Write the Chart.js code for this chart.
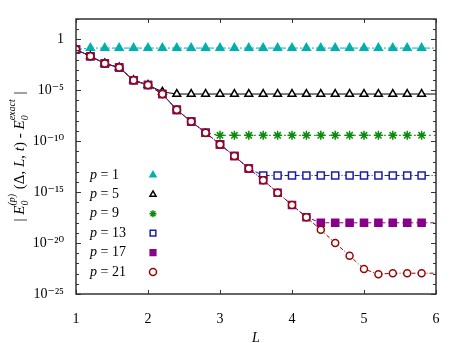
<!DOCTYPE html>
<html>
<head>
<meta charset="utf-8">
<script src="https://cdn.jsdelivr.net/npm/chart.js@4/dist/chart.umd.min.js"></script>
<style>
  html, body { margin: 0; padding: 0; background: #fff; }
</style>
</head>
<body>
<canvas id="chart" width="463" height="343"></canvas>
<script>
// system sizes L (markers every 0.2, last point only carries the line to the edge)
const sizes = [1.0, 1.2, 1.4, 1.6, 1.8, 2.0, 2.2, 2.4, 2.6, 2.8, 3.0, 3.2, 3.4,
               3.6, 3.8, 4.0, 4.2, 4.4, 4.6, 4.8, 5.0, 5.2, 5.4, 5.6, 5.8, 6.0];

// |E0(p) - E0exact| for each order p
const errP1  = [1.0e-1, 1.4e-1, 1.4e-1, 1.4e-1, 1.4e-1, 1.4e-1, 1.4e-1, 1.4e-1, 1.4e-1, 1.4e-1,
                1.4e-1, 1.4e-1, 1.4e-1, 1.4e-1, 1.4e-1, 1.4e-1, 1.4e-1, 1.4e-1, 1.4e-1, 1.4e-1,
                1.4e-1, 1.4e-1, 1.4e-1, 1.4e-1, 1.4e-1, 1.4e-1];
const errP5  = [1.0e-1, 2.2e-2, 4.3e-3, 1.7e-3, 9.5e-5, 3.3e-5, 7.0e-6, 4.3e-6, 4.3e-6, 4.3e-6,
                4.3e-6, 4.3e-6, 4.3e-6, 4.3e-6, 4.3e-6, 4.3e-6, 4.3e-6, 4.3e-6, 4.3e-6, 4.3e-6,
                4.3e-6, 4.3e-6, 4.3e-6, 4.3e-6, 4.3e-6, 4.3e-6];
const errP9  = [1.0e-1, 2.2e-2, 4.3e-3, 1.7e-3, 9.5e-5, 3.3e-5, 4.3e-6, 1.2e-7, 8.5e-9, 6.9e-10,
                3.8e-10, 3.8e-10, 3.8e-10, 3.8e-10, 3.8e-10, 3.8e-10, 3.8e-10, 3.8e-10, 3.8e-10, 3.8e-10,
                3.8e-10, 3.8e-10, 3.8e-10, 3.8e-10, 3.8e-10, 3.8e-10];
const errP13 = [1.0e-1, 2.2e-2, 4.3e-3, 1.7e-3, 9.5e-5, 3.3e-5, 4.3e-6, 1.2e-7, 8.5e-9, 6.9e-10,
                4.9e-11, 3.5e-12, 2.1e-13, 4.3e-14, 4.3e-14, 4.3e-14, 4.3e-14, 4.3e-14, 4.3e-14, 4.3e-14,
                4.3e-14, 4.3e-14, 4.3e-14, 4.3e-14, 4.3e-14, 4.3e-14];
const errP17 = [1.0e-1, 2.2e-2, 4.3e-3, 1.7e-3, 9.5e-5, 3.3e-5, 4.3e-6, 1.2e-7, 8.5e-9, 6.9e-10,
                4.9e-11, 3.5e-12, 2.1e-13, 1.5e-14, 8.9e-16, 5.4e-17, 3.5e-18, 9.8e-19, 9.8e-19, 9.8e-19,
                9.8e-19, 9.8e-19, 9.8e-19, 9.8e-19, 9.8e-19, 9.8e-19];
const errP21 = [1.0e-1, 2.2e-2, 4.3e-3, 1.7e-3, 9.5e-5, 3.3e-5, 4.3e-6, 1.2e-7, 8.5e-9, 6.9e-10,
                4.9e-11, 3.5e-12, 2.1e-13, 1.5e-14, 8.9e-16, 5.4e-17, 3.5e-18, 2.0e-19, 1.0e-20, 5.8e-22,
                2.8e-23, 8.9e-24, 1.1e-23, 1.1e-23, 1.1e-23, 1.1e-23];

const xTickValues = [1, 2, 3, 4, 5, 6];
const yTickValues = [1e-25, 1e-20, 1e-15, 1e-10, 1e-5, 1];
const yTickLabels = ['10⁻²⁵', '10⁻²⁰', '10⁻¹⁵', '10⁻¹⁰', '10⁻⁵', '1'];

const FONT = "'Liberation Serif', 'DejaVu Serif', serif";

function series(label, data, color, style, radius, filled, dash, order) {
    return {
        label: label,
        data: sizes.map((x, i) => ({ x: x, y: data[i] })),
        borderColor: color,
        backgroundColor: color,
        borderWidth: 1,
        borderDash: dash,
        pointStyle: style,
        pointRadius: sizes.map((x, i) => i === sizes.length - 1 ? 0 : radius),
        pointBorderColor: color,
        pointBackgroundColor: filled ? color : '#ffffff',
        pointBorderWidth: 1.5,
        tension: 0,
        order: order
    };
}

const datasets = [
    series('p = 1',  errP1,  '#00b0b0', 'triangle', 4.5, true,  [6, 2, 2, 2], 5),
    series('p = 5',  errP5,  '#000000', 'triangle', 4.5, false, [],           4),
    series('p = 9',  errP9,  '#0b8a0b', 'star',     4.5, true,  [2, 3],       3),
    series('p = 13', errP13, '#1c1cb0', 'rect',     5,   false, [5, 2, 1, 2], 2),
    series('p = 17', errP17, '#870087', 'rect',     5,   true,  [4, 3],       1),
    series('p = 21', errP21, '#960606', 'circle',   3.5, false, [4, 2, 1, 2], 0)
];

// box round the plot with inward ticks on all four sides
const frame = {
    id: 'frame',
    afterDraw(chart) {
        const { ctx, chartArea: a, scales: { x, y } } = chart;
        ctx.save();
        ctx.strokeStyle = '#333';
        ctx.lineWidth = 1;
        const seg = (x1, y1, x2, y2) => { ctx.beginPath(); ctx.moveTo(x1, y1); ctx.lineTo(x2, y2); ctx.stroke(); };
        x.ticks.forEach(t => {
            const px = Math.round(x.getPixelForValue(t.value)) + 0.5;
            seg(px, a.bottom, px, a.bottom - 4);
            seg(px, a.top, px, a.top + 4);
        });
        y.ticks.forEach(t => {
            const py = Math.round(y.getPixelForValue(t.value)) + 0.5;
            const len = t.label ? 5 : 3;
            seg(a.left, py, a.left + len, py);
            seg(a.right, py, a.right - len, py);
        });
        ctx.lineWidth = 1.5;
        ctx.strokeRect(a.left, a.top, a.right - a.left, a.bottom - a.top);
        ctx.restore();
    }
};

// legend inside the plot: label text, then marker
const keyBox = {
    id: 'keyBox',
    afterDraw(chart) {
        const ctx = chart.ctx;
        ctx.save();
        ctx.textBaseline = 'middle';
        chart.data.datasets.forEach((ds, i) => {
            const yy = 175 + i * 19.4;
            ctx.fillStyle = '#000';
            ctx.font = "italic 14px " + FONT;
            ctx.fillText('p', 90, yy);
            const w = ctx.measureText('p').width;
            ctx.font = "14px " + FONT;
            ctx.fillText(ds.label.slice(1), 90 + w, yy);
            ctx.strokeStyle = ds.pointBorderColor;
            ctx.fillStyle = ds.pointBackgroundColor;
            ctx.lineWidth = 1.5;
            Chart.helpers.drawPoint(ctx, {
                pointStyle: ds.pointStyle, rotation: 0,
                radius: ds.pointStyle === 'rect' ? 4 : 3.5, borderWidth: 1.5
            }, 153, yy);
        });
        ctx.restore();
    }
};

// rotated y title with sub/superscripts
const yTitle = {
    id: 'yTitle',
    afterDraw(chart) {
        const ctx = chart.ctx;
        const big = 15, small = 10;
        const parts = [
            { t: '| ', it: false },
            { t: 'E', it: true },
            { sub: '0', sup: '(p)' },
            { t: ' (Δ, ', it: false },
            { t: 'L', it: true },
            { t: ', ', it: false },
            { t: 't', it: true },
            { t: ') - ', it: false },
            { t: 'E', it: true },
            { sub: '0', sup: 'exact' },
            { t: ' |', it: false }
        ];
        const f = (it, s) => (it ? 'italic ' : '') + s + 'px ' + FONT;
        let total = 0;
        parts.forEach(p => {
            if (p.sub) {
                ctx.font = f(true, small);
                p.w = Math.max(ctx.measureText(p.sub).width, ctx.measureText(p.sup).width) + 1;
            } else {
                ctx.font = f(p.it, big);
                p.w = ctx.measureText(p.t).width;
            }
            total += p.w;
        });
        const a = chart.chartArea;
        ctx.save();
        ctx.translate(24, (a.top + a.bottom) / 2);
        ctx.rotate(-Math.PI / 2);
        ctx.fillStyle = '#000';
        ctx.textBaseline = 'alphabetic';
        let cx = -total / 2;
        parts.forEach(p => {
            if (p.sub) {
                ctx.font = f(true, small);
                ctx.fillText(p.sub, cx, 4);
                ctx.fillText(p.sup, cx, -9);
            } else {
                ctx.font = f(p.it, big);
                ctx.fillText(p.t, cx, 0);
            }
            cx += p.w;
        });
        ctx.restore();
    }
};

new Chart(document.getElementById('chart').getContext('2d'), {
    type: 'line',
    data: { datasets: datasets },
    plugins: [frame, keyBox, yTitle],
    options: {
        responsive: false,
        animation: false,
        layout: { padding: { top: 19, right: 27, left: 0, bottom: 0 } },
        plugins: { legend: { display: false }, tooltip: { enabled: false } },
        scales: {
            x: {
                type: 'linear', min: 1, max: 6,
                afterBuildTicks: s => { s.ticks = xTickValues.map(v => ({ value: v })); },
                afterFit: s => { s.height = 49; },
                grid: { display: false }, border: { display: false },
                ticks: { color: '#000', padding: 9, font: { family: FONT, size: 14 } },
                title: {
                    display: true, text: 'L', color: '#000', padding: { top: 4, bottom: 0 },
                    font: { family: FONT, size: 14, style: 'italic', lineHeight: 0.63 }
                }
            },
            y: {
                type: 'logarithmic', min: 1e-25, max: 1e2,
                afterBuildTicks: s => {
                    const t = [];
                    for (let e = -25; e <= 2; e++) t.push({ value: Math.pow(10, e) });
                    s.ticks = t;
                },
                afterFit: s => { s.width = 76; },
                grid: { display: false }, border: { display: false },
                ticks: {
                    color: '#000', padding: 4, autoSkip: false,
                    font: { family: FONT, size: 14 },
                    callback: v => {
                        const k = yTickValues.findIndex(t => Math.abs(Math.log10(t) - Math.log10(v)) < 1e-6);
                        return k >= 0 ? yTickLabels[k] : '';
                    }
                }
            }
        }
    }
});
</script>
</body>
</html>
